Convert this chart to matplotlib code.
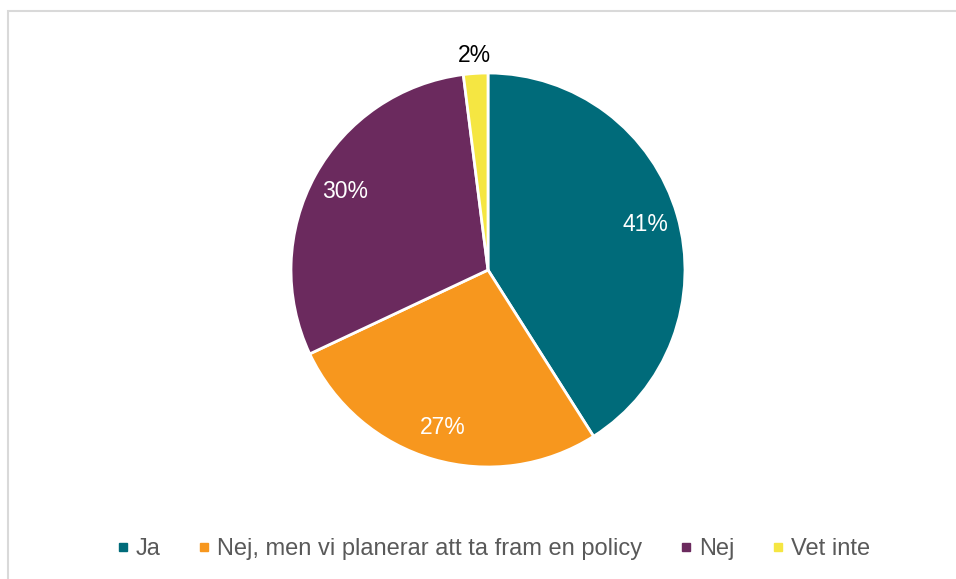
import matplotlib
matplotlib.use("Agg")
from matplotlib import pyplot as plt
from matplotlib.lines import Line2D
from matplotlib.patches import Rectangle
import numpy as np

plt.rcParams['font.family'] = ['Liberation Sans', 'DejaVu Sans']

labels = ["Ja", "Nej, men vi planerar att ta fram en policy", "Nej", "Vet inte"]
values = [41, 27, 30, 2]
slice_colors = ["#006B7A", "#F7971E", "#6B2A5E", "#F5E642"]
pct_colors = ["white", "white", "white", "black"]

W, H = 956, 579
fig = plt.figure(figsize=(W / 100, H / 100), dpi=100)

# light gray frame, right/bottom edges run off the image
fig.patches.append(Rectangle((7.5 / W, -0.05), 1.1, 1 - 10.5 / H + 0.05,
                             transform=fig.transFigure, fill=False,
                             edgecolor="#D9D9D9", linewidth=1.5))

cx, cy, r = 488, 270, 197
ax = fig.add_axes([(cx - r) / W, (H - cy - r) / H, 2 * r / W, 2 * r / H])

ax.pie(values, colors=slice_colors, startangle=90, counterclock=False,
       wedgeprops=dict(edgecolor="white", linewidth=2))
ax.set_xlim(-1, 1)
ax.set_ylim(-1, 1)
ax.set_aspect('equal')

start = 90.0
for v, c in zip(values, pct_colors):
    span = v / sum(values) * 360
    mid = np.deg2rad(start - span / 2)
    rr = 1.09 if v < 5 else 0.83
    ax.text(rr * np.cos(mid), rr * np.sin(mid), f"{v}%", color=c,
            ha="center", va="center", fontsize=16.5, clip_on=False)
    start -= span

handles = [Line2D([], [], marker="s", linestyle="none", markersize=6,
                  markerfacecolor=c, markeredgecolor=c) for c in slice_colors]
fig.legend(handles, labels, loc="center", bbox_to_anchor=(0.516, 1 - 549 / H),
           ncol=4, frameon=False, fontsize=17, labelcolor="#595959",
           handlelength=0.5, handletextpad=0.3, columnspacing=1.6)

fig.savefig("out.png", dpi=100)
